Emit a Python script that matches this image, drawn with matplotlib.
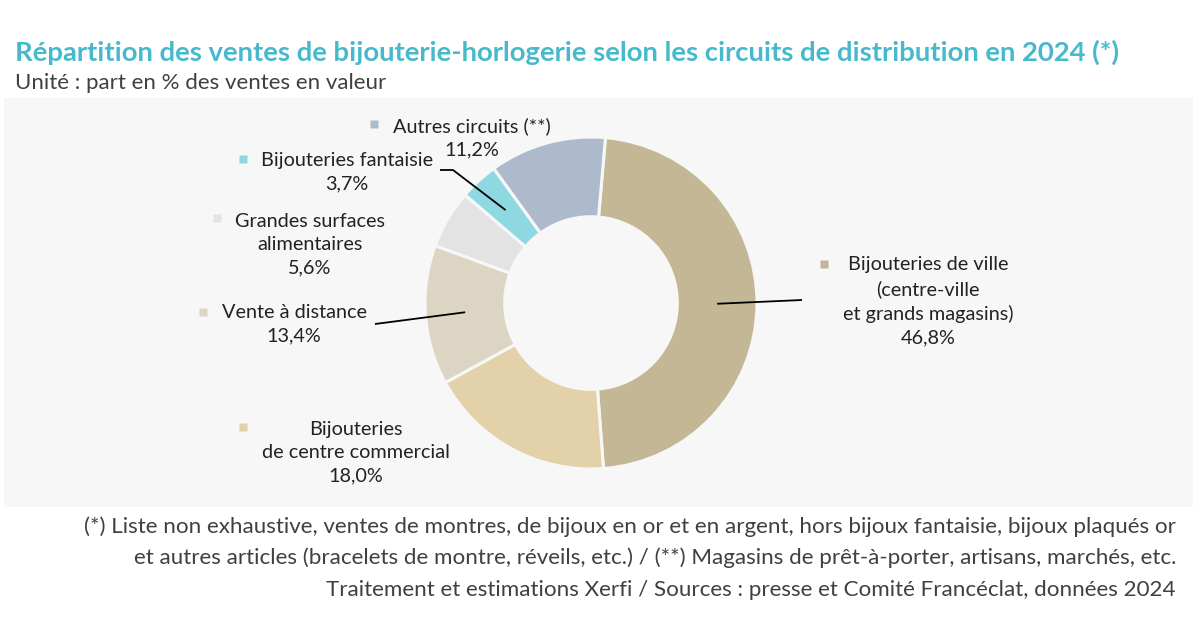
import matplotlib
matplotlib.use('Agg')
import matplotlib.pyplot as plt
import numpy as np
from matplotlib.patches import Rectangle

plt.rcParams['font.family'] = ['Lato', 'DejaVu Sans']

# parts en % des ventes en valeur, ordre horaire depuis le haut
circuits = ['Bijouteries de ville\n(centre-ville\net grands magasins)',
            'Bijouteries\nde centre commercial',
            'Vente à distance',
            'Grandes surfaces\nalimentaires',
            'Bijouteries fantaisie',
            'Autres circuits (**)']
parts = [46.8, 18.0, 13.4, 5.6, 3.7, 11.2]
couleurs = ['#C4B796', '#E3D2A9', '#DDD5C3', '#E3E3E3', '#8ED8E2', '#ADBACB']

titre = 'Répartition des ventes de bijouterie-horlogerie selon les circuits de distribution en 2024 (*)'
sous_titre = 'Unité : part en % des ventes en valeur'
notes = ['(*) Liste non exhaustive, ventes de montres, de bijoux en or et en argent, hors bijoux fantaisie, bijoux plaqués or',
         'et autres articles (bracelets de montre, réveils, etc.) / (**) Magasins de prêt-à-porter, artisans, marchés, etc.',
         'Traitement et estimations Xerfi / Sources : presse et Comité Francéclat, données 2024']

W, H = 1200, 630
fig = plt.figure(figsize=(12, 6.3), dpi=100)
fig.patch.set_facecolor('white')
renderer = fig.canvas.get_renderer()

def ajuste(t, largeur):
    bb = t.get_window_extent(renderer)
    t.set_fontsize(t.get_fontsize() * largeur / bb.width)
    return t.get_fontsize()

# fond gris
fond = fig.add_axes([0, 0, 1, 1], zorder=0)
fond.set_xlim(0, W)
fond.set_ylim(H, 0)
fond.axis('off')
fond.add_patch(Rectangle((4, 98), 1189, 409, facecolor='#F7F7F7', edgecolor='none'))

# anneau
cx, cy, r = 591, 303, 166
ax = fig.add_axes([(cx - r) / W, (H - cy - r) / H, 2 * r / W, 2 * r / H], zorder=1)
wedges, _ = ax.pie(parts, colors=couleurs, startangle=85, counterclock=False,
                   wedgeprops=dict(width=0.48, edgecolor='#F7F7F7', linewidth=2.2))
ax.set_xlim(-1, 1)
ax.set_ylim(-1, 1)

top = fig.add_axes([0, 0, 1, 1], zorder=2)
top.set_xlim(0, W)
top.set_ylim(H, 0)
top.axis('off')

t = top.text(15, 52, titre, color='#47B9CD', fontsize=17, fontweight='bold', va='center', ha='left')
ajuste(t, 1107)
t = top.text(15, 83, sous_titre, color='#404040', fontsize=13, va='center', ha='left')
ajuste(t, 370)

t = top.text(1176, 527, notes[0], color='#404040', fontsize=14, va='center', ha='right')
fs_note = ajuste(t, 1091)
top.text(1176, 558, notes[1], color='#404040', fontsize=fs_note, va='center', ha='right')
top.text(1176, 590, notes[2], color='#404040', fontsize=fs_note, va='center', ha='right')

# étiquettes
t = top.text(0, 0, 'Bijouteries de ville', fontsize=13)
fs_lab = ajuste(t, 160)
t.remove()

pos_lab = [(928, 301), (356, 453), (294, 324.5), (310, 245), (347, 172.5), (472, 137.5)]
pos_carre = [(824, 264), (243, 427), (203, 312), (217, 218), (243, 159), (374, 124)]
for nom, p, c, (lx, ly), (mx, my) in zip(circuits, parts, couleurs, pos_lab, pos_carre):
    lab = nom + '\n' + f'{p:.1f}%'.replace('.', ',')
    top.text(lx, ly, lab, fontsize=fs_lab, color='#222222', ha='center', va='center',
             multialignment='center', linespacing=1.45)
    top.plot(mx, my, marker='s', ms=6, color=c, mec='none')

def vers_top(x, y):
    return top.transData.inverted().transform(ax.transData.transform((x, y)))

def milieu(i, rr=0.76):
    w = wedges[i]
    a = np.deg2rad((w.theta1 + w.theta2) / 2)
    return vers_top(rr * np.cos(a), rr * np.sin(a))

traits = {0: [(802, 300)], 2: [(375, 324)], 4: [(453, 170), (440, 170)]}
for i, pts in traits.items():
    x0, y0 = milieu(i)
    xs = [x0] + [p[0] for p in pts]
    ys = [y0] + [p[1] for p in pts]
    top.plot(xs, ys, color='black', lw=1.3, solid_capstyle='butt')

fig.savefig('out.png', dpi=100, facecolor='white')
